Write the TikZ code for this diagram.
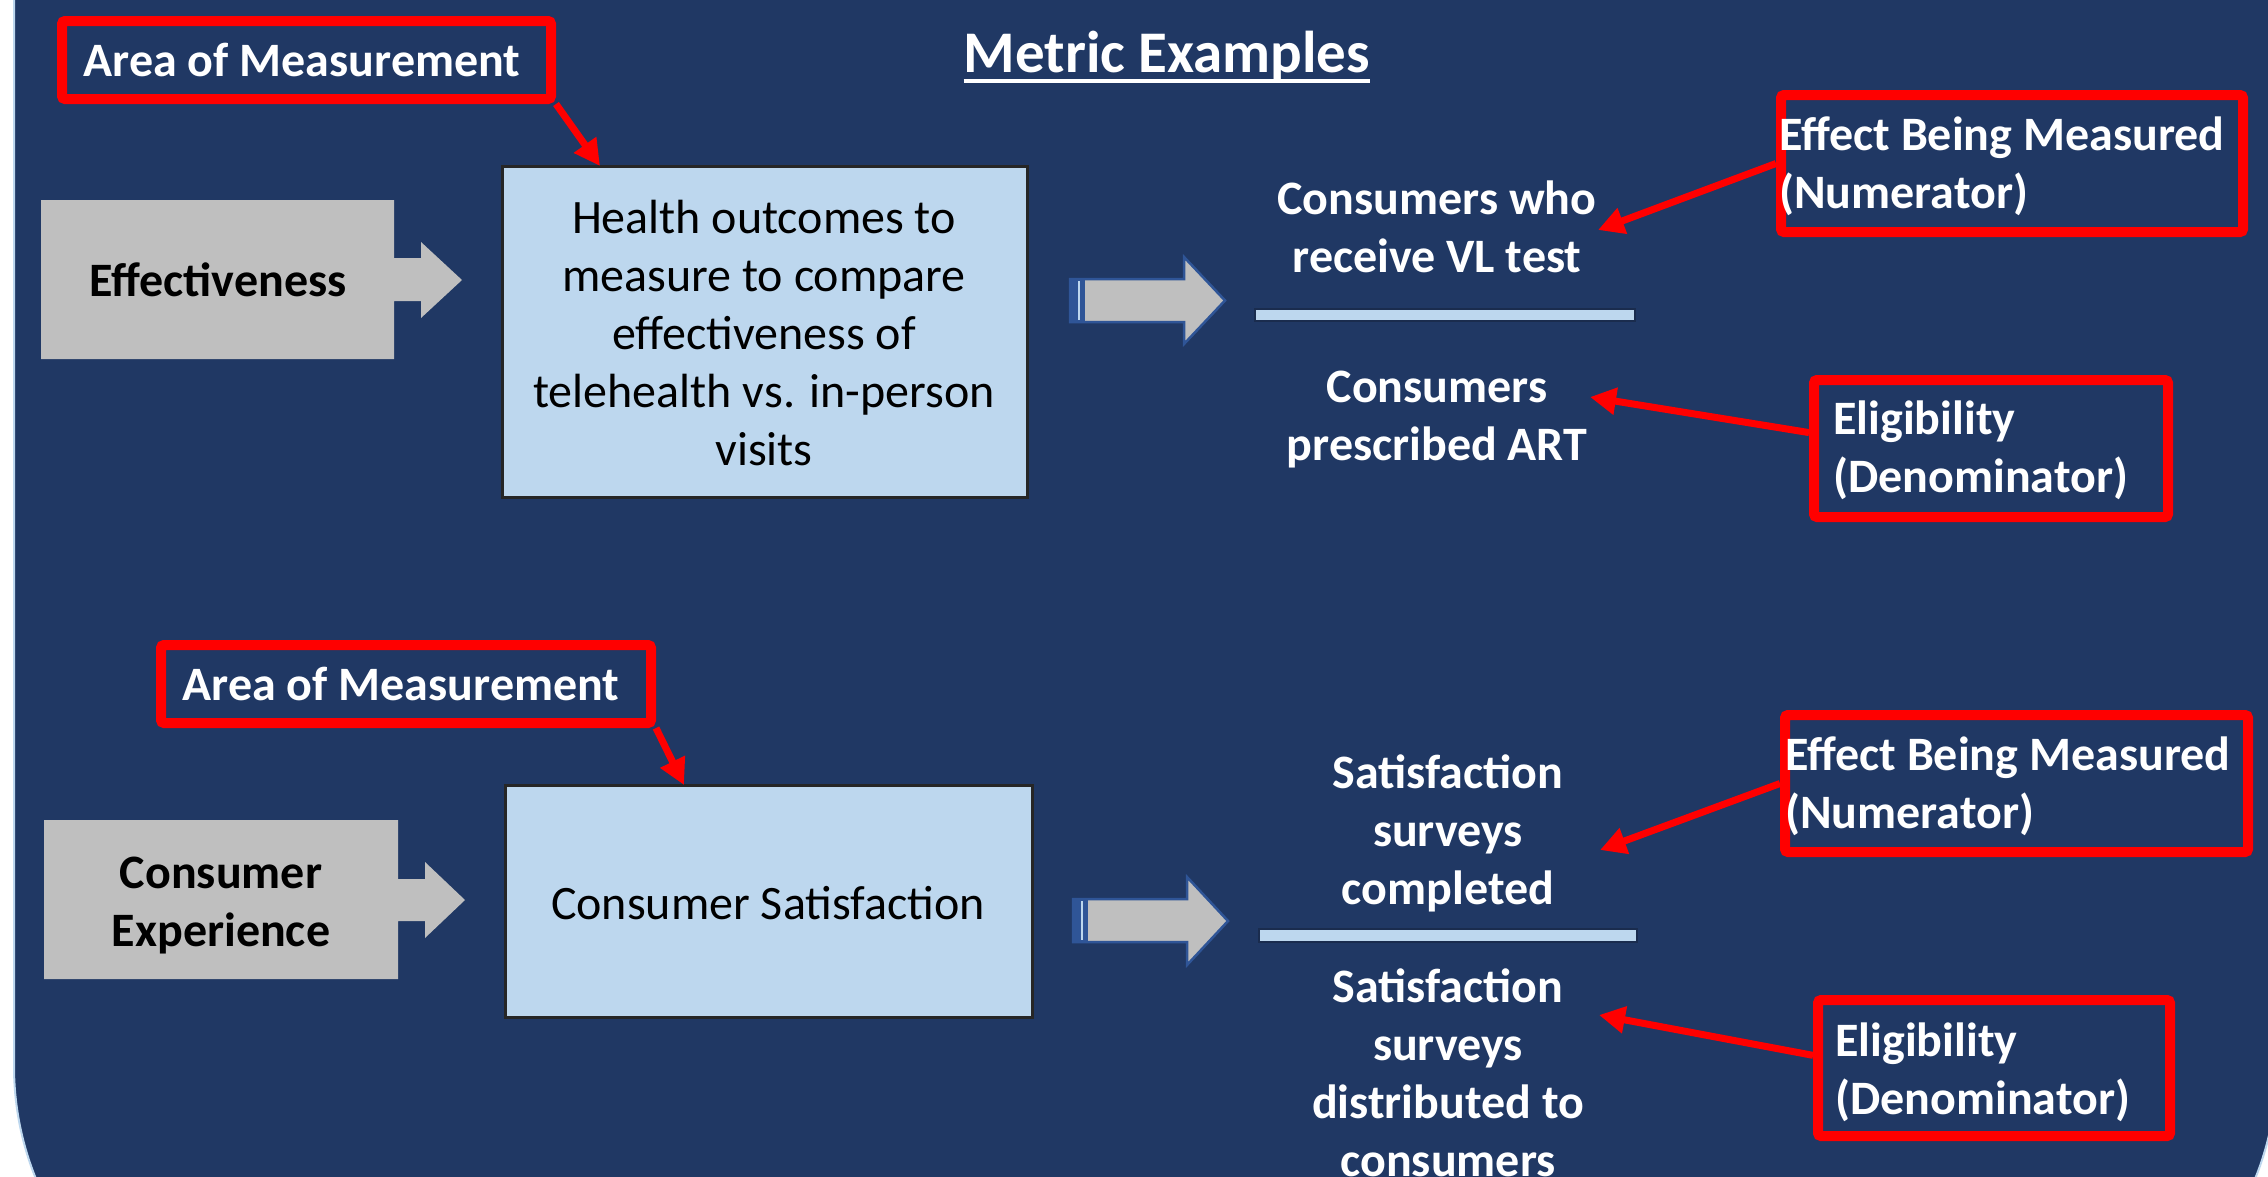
\documentclass[tikz,border=0pt]{standalone}
\usepackage{fontspec}
\setmainfont{Carlito}
\usetikzlibrary{arrows.meta}
\definecolor{navy}{HTML}{203864}
\definecolor{boxblue}{HTML}{BDD7EE}
\definecolor{graybox}{HTML}{BFBFBF}
\definecolor{redline}{HTML}{FF0000}
\definecolor{arrowblue}{HTML}{2F5597}
\definecolor{boxedge}{HTML}{262626}
\definecolor{barshadow}{HTML}{1A2C4E}
\begin{document}
\begin{tikzpicture}[x=1pt,y=-1pt,
  redbox/.style={draw=redline, line width=10pt, rounded corners=3pt, inner sep=0pt},
  redarrow/.style={draw=redline, line width=7pt, -{Triangle[length=26pt,width=26pt]}},
  wtext/.style={text=white, font=\bfseries\fontsize{48}{58}\selectfont, inner sep=0pt},
  btext/.style={text=black, font=\fontsize{48}{58}\selectfont, inner sep=0pt, align=center},
  bbold/.style={text=black, font=\bfseries\fontsize{48}{58}\selectfont, inner sep=0pt, align=center},
  lightbox/.style={fill=boxblue, draw=boxedge, line width=3pt, inner sep=0pt},
  grayshape/.style={fill=graybox},
  midarrow/.style={fill=graybox, draw=arrowblue, line width=2.5pt, line join=miter},
  fracbar/.style={fill=boxblue, draw=barshadow, line width=2pt}
]
\useasboundingbox (0,0) rectangle (2268,1176);
\fill[white] (0,0) rectangle (2268,1176);
\begin{scope}
\clip (0,0) rectangle (2268,1176);
\draw[fill=navy, draw=boxblue, line width=2pt, rounded corners=300pt] (14,-400) rectangle (2277,1366);
\end{scope}

% title
\node[wtext, anchor=base, font=\bfseries\fontsize{59}{70}\selectfont] (title) at (1167,72) {Metric Examples};
\draw[white, line width=4pt] ([yshift=-9pt]title.base west) -- ([yshift=-9pt]title.base east);

% ---------- top row ----------
\node[redbox, minimum width=489pt, minimum height=78pt] (area1) at (306.5,60) {};
\node[wtext] (area1t) at (302,60) {Area of Measurement};

\path[grayshape] (41,200) -- (394,200) -- (394,258) -- (421,258) -- (421,242) -- (462,280)
  -- (421,318) -- (421,301) -- (394,301) -- (394,359) -- (41,359) -- cycle;
\node[bbold] (effect) at (218,280) {Effectiveness};

\node[lightbox, minimum width=525pt, minimum height=331pt] (health) at (764.5,331.5) {};
\node[btext] (healtht) at (764,333) {Health outcomes to\\measure to compare\\effectiveness of\\telehealth vs. in-person\\visits};

\path[midarrow] (1070,279) -- (1184,279) -- (1184,257) -- (1225,300.5) -- (1184,344) -- (1184,322) -- (1070,322) -- cycle;
\fill[arrowblue] (1070,279) rectangle (1085,322);
\draw[boxblue, line width=2.5pt] (1079,281) -- (1079,320);

\node[wtext, align=center] (num1) at (1437,227) {Consumers who\\receive VL test};
\path[fracbar] (1255,309) rectangle (1635,321);
\node[wtext, align=center] (den1) at (1437,420) {Consumers\\prescribed ART};

\node[redbox, minimum width=462pt, minimum height=137pt] (eff1) at (2012,163.5) {};
\node[wtext, anchor=west, align=left] (eff1t) at (1779,166) {Effect Being Measured\\(Numerator)};
\node[redbox, minimum width=354pt, minimum height=137pt] (elig1) at (1991,448.5) {};
\node[wtext, anchor=west, align=left] (elig1t) at (1833,450) {Eligibility\\(Denominator)};

\coordinate (h1) at (600,166);
\coordinate (t1) at (1598,230);
\coordinate (t2) at (1590,397);
\draw[redarrow] (area1.south east) -- (h1);
\draw[redarrow] (eff1.west) -- (t1);
\draw[redarrow] (elig1.175) -- (t2);

% ---------- bottom row ----------
\node[redbox, minimum width=490pt, minimum height=78pt] (area2) at (406,684) {};
\node[wtext] (area2t) at (401,684) {Area of Measurement};

\path[grayshape] (44,820) -- (398,820) -- (398,879) -- (425,879) -- (425,862) -- (465,900)
  -- (425,938) -- (425,921) -- (398,921) -- (398,979) -- (44,979) -- cycle;
\node[bbold] (cexp) at (221,906) {Consumer\\Experience};

\node[lightbox, minimum width=527pt, minimum height=232pt] (csat) at (768.5,901) {};
\node[btext] (csatt) at (768,903) {Consumer Satisfaction};

\path[midarrow] (1073,899) -- (1187,899) -- (1187,877) -- (1228,921) -- (1187,965) -- (1187,942) -- (1073,942) -- cycle;
\fill[arrowblue] (1073,899) rectangle (1088,942);
\draw[boxblue, line width=2.5pt] (1082,901) -- (1082,940);

\node[wtext, align=center] (num2) at (1448,833) {Satisfaction\\surveys\\completed};
\path[fracbar] (1259,929) rectangle (1637,942);
\node[wtext, align=center] (den2) at (1448,1073) {Satisfaction\\surveys\\distributed to\\consumers};

\node[redbox, minimum width=463pt, minimum height=137pt] (eff2) at (2016.5,783.5) {};
\node[wtext, anchor=west, align=left] (eff2t) at (1785,786) {Effect Being Measured\\(Numerator)};
\node[redbox, minimum width=352pt, minimum height=136pt] (elig2) at (1994,1068) {};
\node[wtext, anchor=west, align=left] (elig2t) at (1835,1072) {Eligibility\\(Denominator)};

\coordinate (h2) at (684,785);
\coordinate (t3) at (1600,850);
\coordinate (t4) at (1599,1015);
\draw[redarrow] (area2.south east) -- (h2);
\draw[redarrow] (eff2.west) -- (t3);
\draw[redarrow] (elig2.176) -- (t4);
\end{tikzpicture}
\end{document}
